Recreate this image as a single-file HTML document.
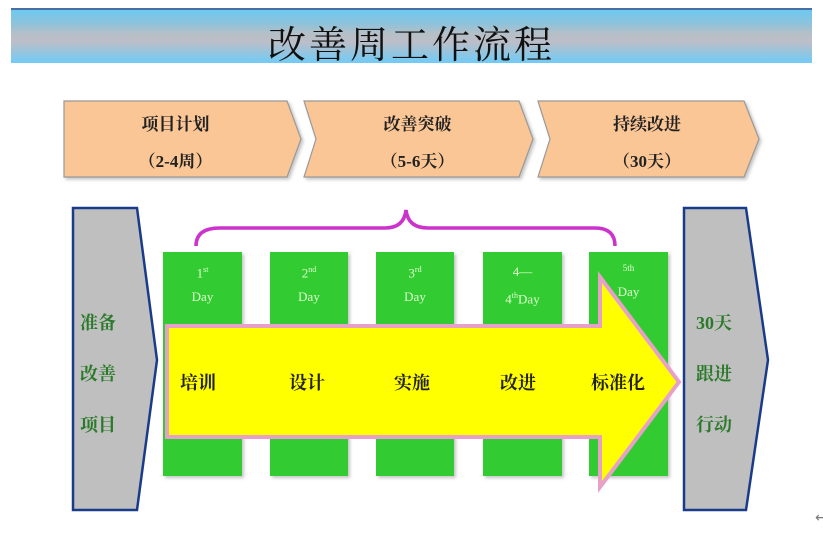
<!DOCTYPE html>
<html><head><meta charset="utf-8"><style>
body{margin:0;width:823px;height:533px;background:#fff;overflow:hidden;position:relative;font-family:"Liberation Serif","Noto Serif CJK SC",serif}
.banner{position:absolute;left:11px;top:8px;width:801px;height:55px;border-top:2px solid #4a6fa5;box-sizing:border-box;background:linear-gradient(#6ec9f0 0%,#8cc3dc 25%,#b6bfc6 45%,#bcbec8 60%,#8cc6e4 85%,#70cbf8 100%)}
.t{position:absolute;font-weight:bold;white-space:nowrap}
</style></head><body>
<div class="banner"></div>
<div class="t" style="left:0;width:823px;top:14px;text-align:center;font-size:38px;color:#111;font-weight:normal;letter-spacing:3px">改善周工作流程</div>
<svg width="823" height="533" style="position:absolute;left:0;top:0">
<defs><filter id="s"><feDropShadow dx="2" dy="2" stdDeviation="1.5" flood-color="#888" flood-opacity="0.5"/></filter></defs>
<g fill="#fbc695" stroke="#999" stroke-width="1.2" filter="url(#s)">
<polygon points="64,101 287,101 301,139 287,177 64,177"/>
<polygon points="304,101 519,101 533,139 519,177 304,177 316,139"/>
<polygon points="538,101 744,101 759,139 744,177 538,177 550,139"/>
</g>
<g fill="#bfbfbf" stroke="#1a3a8a" stroke-width="2.5">
<polygon points="73,208 137,208 157,360 137,510 73,510"/>
<polygon points="684,208 746,208 768,360 746,510 684,510"/>
</g>
<g fill="#33cc33" filter="url(#s)">
<rect x="163" y="252" width="79" height="224"/>
<rect x="270" y="252" width="78" height="224"/>
<rect x="376" y="252" width="78" height="224"/>
<rect x="483" y="252" width="79" height="224"/>
<rect x="589" y="252" width="79" height="224"/>
</g>
<polygon points="167,326 600,326 600,277 679,382 600,487 600,437 167,437" fill="#ffff00" stroke="#e7a0c8" stroke-width="4"/>
<path d="M196,246 Q196,228 220,228 L385,228 Q404,228 406,210 Q408,228 428,228 L595,228 Q615,228 615,246" fill="none" stroke="#cc33cc" stroke-width="3.5"/>
<text x="815" y="522" font-size="14" fill="#777" font-family="DejaVu Sans">←</text>
</svg>
<div class="t" style="left:64px;width:223px;top:110px;text-align:center;font-size:17px;color:#222">项目计划</div>
<div class="t" style="left:64px;width:223px;top:147px;text-align:center;font-size:17px;color:#222">（2-4周）</div>
<div class="t" style="left:316px;width:203px;top:110px;text-align:center;font-size:17px;color:#222">改善突破</div>
<div class="t" style="left:316px;width:203px;top:147px;text-align:center;font-size:17px;color:#222">（5-6天）</div>
<div class="t" style="left:550px;width:194px;top:110px;text-align:center;font-size:17px;color:#222">持续改进</div>
<div class="t" style="left:550px;width:194px;top:147px;text-align:center;font-size:17px;color:#222">（30天）</div>
<div class="t" style="left:80px;top:298px;font-size:18px;color:#2a7a2a;line-height:51px">准备<br>改善<br>项目</div>
<div class="t" style="left:696px;top:298px;font-size:18px;color:#2a7a2a;line-height:51px">30天<br>跟进<br>行动</div>
<div class="t" style="left:163px;width:79px;top:258px;text-align:center;font-size:13px;color:#dfffd0;font-weight:normal;line-height:24px">1<sup style="font-size:8px">st</sup><br>Day</div>
<div class="t" style="left:270px;width:78px;top:258px;text-align:center;font-size:13px;color:#dfffd0;font-weight:normal;line-height:24px">2<sup style="font-size:8px">nd</sup><br>Day</div>
<div class="t" style="left:376px;width:78px;top:258px;text-align:center;font-size:13px;color:#dfffd0;font-weight:normal;line-height:24px">3<sup style="font-size:8px">rd</sup><br>Day</div>
<div class="t" style="left:483px;width:79px;top:260px;text-align:center;font-size:13px;color:#dfffd0;font-weight:normal;line-height:24px">4—<br>4<sup style="font-size:8px">th</sup>Day</div>
<div class="t" style="left:589px;width:79px;top:255px;text-align:center;font-size:13px;color:#dfffd0;font-weight:normal;line-height:24px"><span style="font-size:9px">5th</span><br>Day</div>
<div class="t" style="left:180px;top:369px;font-size:18px;color:#222">培训</div>
<div class="t" style="left:289px;top:369px;font-size:18px;color:#222">设计</div>
<div class="t" style="left:394px;top:369px;font-size:18px;color:#222">实施</div>
<div class="t" style="left:500px;top:369px;font-size:18px;color:#222">改进</div>
<div class="t" style="left:591px;top:369px;font-size:18px;color:#222">标准化</div>
</body></html>
